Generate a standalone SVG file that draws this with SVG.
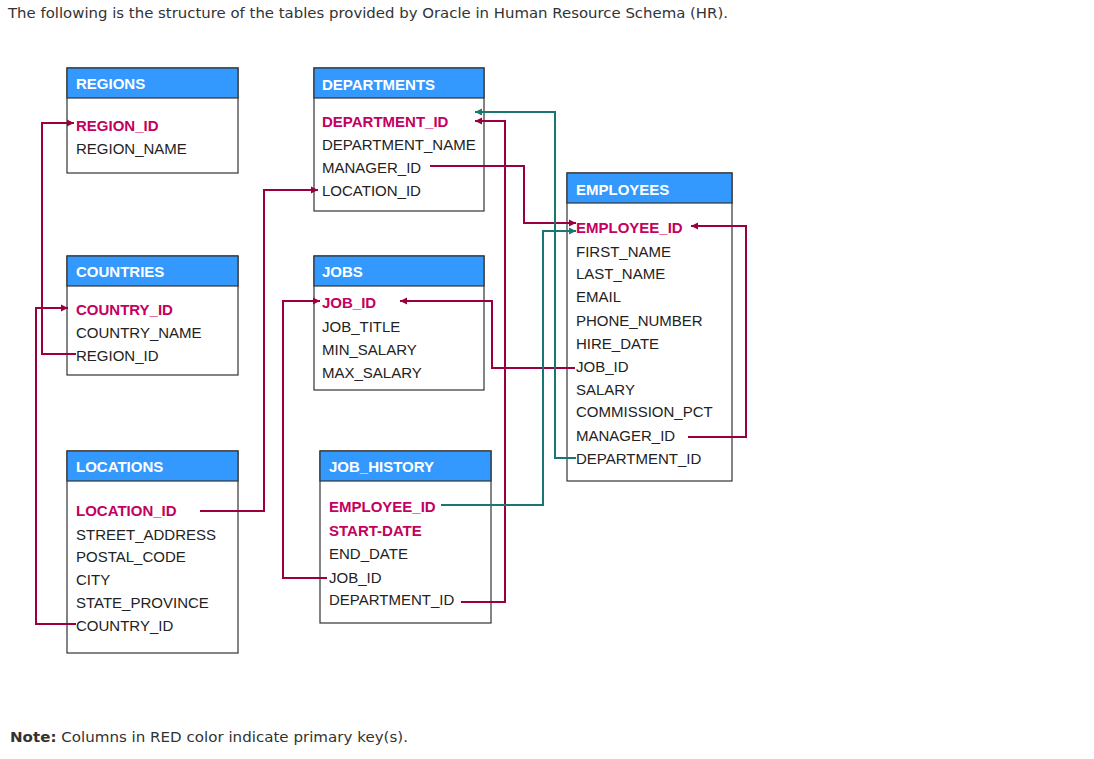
<svg xmlns="http://www.w3.org/2000/svg" width="1094" height="759" viewBox="0 0 1094 759">
<style>
.box{fill:#fff;stroke:#333;stroke-width:1.2}
.hd{fill:#3399ff;stroke:#333;stroke-width:1.2}
.ht{font-family:"Liberation Sans",Arial,sans-serif;font-weight:bold;font-size:15px;fill:#fff}
.f{font-family:"Liberation Sans",Arial,sans-serif;font-size:15px;fill:#222}
.k{font-family:"Liberation Sans",Arial,sans-serif;font-size:15px;font-weight:bold;fill:#c40060}
.r{fill:none;stroke:#99003d;stroke-width:2;marker-end:url(#ar)}
.t{fill:none;stroke:#1a7575;stroke-width:2;marker-end:url(#at)}
.p{font-family:"DejaVu Sans",Verdana,sans-serif;font-size:14px;fill:#333}
</style>
<defs>
<marker id="ar" markerUnits="userSpaceOnUse" markerWidth="8" markerHeight="8" refX="7" refY="4" orient="auto"><path d="M0,0.5 L7,4 L0,7.5 Z" fill="#99003d"/></marker>
<marker id="at" markerUnits="userSpaceOnUse" markerWidth="8" markerHeight="8" refX="7" refY="4" orient="auto"><path d="M0,0.5 L7,4 L0,7.5 Z" fill="#1a7575"/></marker>
</defs>
<rect width="1094" height="759" fill="#fff"/>
<text class="p" x="8" y="18" textLength="720" lengthAdjust="spacingAndGlyphs">The following is the structure of the tables provided by Oracle in Human Resource Schema (HR).</text>

<g id="regions">
<rect class="box" x="67" y="68" width="171" height="105"/>
<rect class="hd" x="67" y="68" width="171" height="30"/>
<text class="ht" x="76" y="89">REGIONS</text>
<text class="k" x="76" y="131">REGION_ID</text>
<text class="f" x="76" y="154">REGION_NAME</text>
</g>

<g id="countries">
<rect class="box" x="67" y="256" width="171" height="119"/>
<rect class="hd" x="67" y="256" width="171" height="30"/>
<text class="ht" x="76" y="277">COUNTRIES</text>
<text class="k" x="76" y="315">COUNTRY_ID</text>
<text class="f" x="76" y="338">COUNTRY_NAME</text>
<text class="f" x="76" y="361">REGION_ID</text>
</g>

<g id="locations">
<rect class="box" x="67" y="451" width="171" height="202"/>
<rect class="hd" x="67" y="451" width="171" height="30"/>
<text class="ht" x="76" y="472">LOCATIONS</text>
<text class="k" x="76" y="516">LOCATION_ID</text>
<text class="f" x="76" y="540">STREET_ADDRESS</text>
<text class="f" x="76" y="562">POSTAL_CODE</text>
<text class="f" x="76" y="585">CITY</text>
<text class="f" x="76" y="608">STATE_PROVINCE</text>
<text class="f" x="76" y="631">COUNTRY_ID</text>
</g>

<g id="departments">
<rect class="box" x="314" y="68" width="170" height="143"/>
<rect class="hd" x="314" y="68" width="170" height="30"/>
<text class="ht" x="322" y="90">DEPARTMENTS</text>
<text class="k" x="322" y="127">DEPARTMENT_ID</text>
<text class="f" x="322" y="150">DEPARTMENT_NAME</text>
<text class="f" x="322" y="173">MANAGER_ID</text>
<text class="f" x="322" y="196">LOCATION_ID</text>
</g>

<g id="jobs">
<rect class="box" x="314" y="256" width="170" height="134"/>
<rect class="hd" x="314" y="256" width="170" height="30"/>
<text class="ht" x="322" y="277">JOBS</text>
<text class="k" x="322" y="308">JOB_ID</text>
<text class="f" x="322" y="332">JOB_TITLE</text>
<text class="f" x="322" y="355">MIN_SALARY</text>
<text class="f" x="322" y="378">MAX_SALARY</text>
</g>

<g id="job_history">
<rect class="box" x="320" y="451" width="171" height="172"/>
<rect class="hd" x="320" y="451" width="171" height="30"/>
<text class="ht" x="329" y="472">JOB_HISTORY</text>
<text class="k" x="329" y="512">EMPLOYEE_ID</text>
<text class="k" x="329" y="536">START-DATE</text>
<text class="f" x="329" y="559">END_DATE</text>
<text class="f" x="329" y="583">JOB_ID</text>
<text class="f" x="329" y="605">DEPARTMENT_ID</text>
</g>

<g id="employees">
<rect class="box" x="567" y="173" width="165" height="308"/>
<rect class="hd" x="567" y="173" width="165" height="30"/>
<text class="ht" x="576" y="195">EMPLOYEES</text>
<text class="k" x="576" y="233">EMPLOYEE_ID</text>
<text class="f" x="576" y="257">FIRST_NAME</text>
<text class="f" x="576" y="279">LAST_NAME</text>
<text class="f" x="576" y="302">EMAIL</text>
<text class="f" x="576" y="326">PHONE_NUMBER</text>
<text class="f" x="576" y="349">HIRE_DATE</text>
<text class="f" x="576" y="372">JOB_ID</text>
<text class="f" x="576" y="395">SALARY</text>
<text class="f" x="576" y="417">COMMISSION_PCT</text>
<text class="f" x="576" y="441">MANAGER_ID</text>
<text class="f" x="576" y="464">DEPARTMENT_ID</text>
</g>

<g id="connectors">
<path class="r" d="M76,354 H42 V123 H74"/>
<path class="r" d="M76,624 H36 V308 H68"/>
<path class="r" d="M200,511 H264 V190 H318"/>
<path class="r" d="M327,578 H283 V301 H320"/>
<path class="r" d="M575,368 H492 V301 H400"/>
<path class="r" d="M430,166 H524 V223 H576"/>
<path class="r" d="M461,602 H505 V121 H475"/>
<path class="t" d="M576,458 H555 V112 H475"/>
<path class="t" d="M441,505 H543 V231 H576"/>
<path class="r" d="M688,437 H746 V226 H691"/>
</g>

<text class="p" x="10" y="742" textLength="398" lengthAdjust="spacingAndGlyphs"><tspan font-weight="bold">Note:</tspan> Columns in RED color indicate primary key(s).</text>
</svg>
